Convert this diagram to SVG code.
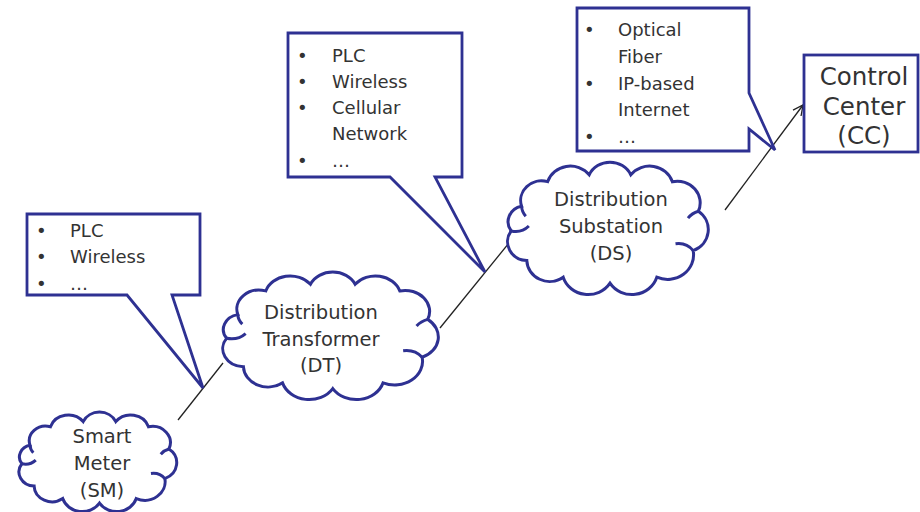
<svg xmlns="http://www.w3.org/2000/svg" xmlns:xlink="http://www.w3.org/1999/xlink" width="920" height="512" viewBox="0 0 920 512">
<style>
  .shape { fill: #ffffff; stroke: #2E3192; stroke-width: 2.8; stroke-linejoin: miter; }
  .cl { fill: #ffffff; stroke: #2E3192; stroke-width: 3; vector-effect: non-scaling-stroke; }
  .curl { fill: none; stroke: #2E3192; stroke-width: 3; vector-effect: non-scaling-stroke; }
  .t { font-family: "DejaVu Sans", "Liberation Sans", sans-serif; fill: #333333; }
  .node { font-size: 19.5px; text-anchor: middle; }
  .cc { font-size: 24.5px; text-anchor: middle; }
  .list { font-size: 18px; }
  .conn { stroke: #222222; stroke-width: 1.3; fill: none; }
</style>
<defs>
  <g id="cloud">
    <path class="cl" d="M20,40 A20,20 0 0 1 45,15 A23,23 0 0 1 85,8 A22,22 0 0 1 125,8 A23,23 0 0 1 165,15 A22,22 0 0 1 190,45 A23,23 0 0 1 185,85 A25,25 0 0 1 150,112 A25,25 0 0 1 105,118 A25,25 0 0 1 60,112 A22,22 0 0 1 25,95 A19,19 0 0 1 10,65 A16,16 0 0 1 20,40 Z"/>
    <path class="curl" d="M168,78 A18,18 0 0 1 185,85"/>
    <path class="curl" d="M10,65 A18,18 0 0 0 27,60"/>
    <path class="curl" d="M20,40 A16,16 0 0 0 24,50"/>
    <path class="curl" d="M190,45 A20,20 0 0 0 180,52"/>
  </g>
  <marker id="arrow" viewBox="0 0 12 12" refX="11" refY="6" markerWidth="12" markerHeight="12" markerUnits="userSpaceOnUse" orient="auto">
    <path d="M1,1 L11,6 L1,11" fill="none" stroke="#222222" stroke-width="1.3"/>
  </marker>
</defs>

<g id="connectors">
  <line class="conn" x1="178" y1="420" x2="223" y2="363"/>
  <line class="conn" x1="440" y1="328" x2="513" y2="238"/>
  <line class="conn" x1="725" y1="210" x2="803" y2="105" marker-end="url(#arrow)"/>
</g>

<g id="callout-sm-dt">
  <path class="shape" d="M27,214 H200 V295 H172 L203,388 L127,295 H27 Z"/>
  <text class="t list" x="36" y="237">•</text><text class="t list" x="70" y="237">PLC</text>
  <text class="t list" x="36" y="263">•</text><text class="t list" x="70" y="263">Wireless</text>
  <text class="t list" x="36" y="290">•</text><text class="t list" x="70" y="290">…</text>
</g>

<g id="callout-dt-ds">
  <path class="shape" d="M288,33 H462 V177 H435 L485,272 L390,177 H288 Z"/>
  <text class="t list" x="297" y="62">•</text><text class="t list" x="332" y="62">PLC</text>
  <text class="t list" x="297" y="88">•</text><text class="t list" x="332" y="88">Wireless</text>
  <text class="t list" x="297" y="114">•</text><text class="t list" x="332" y="114">Cellular</text>
  <text class="t list" x="332" y="140">Network</text>
  <text class="t list" x="297" y="167">•</text><text class="t list" x="332" y="167">…</text>
</g>

<g id="callout-ds-cc">
  <path class="shape" d="M577,8 H749 V93 L775,150 L749,129 V151 H577 Z"/>
  <text class="t list" x="584" y="36">•</text><text class="t list" x="618" y="36">Optical</text>
  <text class="t list" x="618" y="63">Fiber</text>
  <text class="t list" x="584" y="90">•</text><text class="t list" x="618" y="90">IP-based</text>
  <text class="t list" x="618" y="116">Internet</text>
  <text class="t list" x="584" y="143">•</text><text class="t list" x="618" y="143">…</text>
</g>

<g id="sm">
  <use xlink:href="#cloud" href="#cloud" transform="translate(13.7,415.7) scale(0.817,0.74)"/>
  <text class="t node" x="102" y="443">Smart</text>
  <text class="t node" x="102" y="470">Meter</text>
  <text class="t node" x="102" y="497">(SM)</text>
</g>

<g id="dt">
  <use xlink:href="#cloud" href="#cloud" transform="translate(215.5,276.7) scale(1.117,0.948)"/>
  <text class="t node" x="321" y="319">Distribution</text>
  <text class="t node" x="321" y="346">Transformer</text>
  <text class="t node" x="321" y="372">(DT)</text>
</g>

<g id="ds">
  <use xlink:href="#cloud" href="#cloud" transform="translate(500.8,166.9) scale(1.04,0.985)"/>
  <text class="t node" x="611" y="206">Distribution</text>
  <text class="t node" x="611" y="233">Substation</text>
  <text class="t node" x="611" y="260">(DS)</text>
</g>

<g id="cc">
  <rect class="shape" x="804" y="55" width="114" height="97"/>
  <text class="t cc" x="864" y="85">Control</text>
  <text class="t cc" x="864" y="115">Center</text>
  <text class="t cc" x="864" y="144">(CC)</text>
</g>
</svg>
